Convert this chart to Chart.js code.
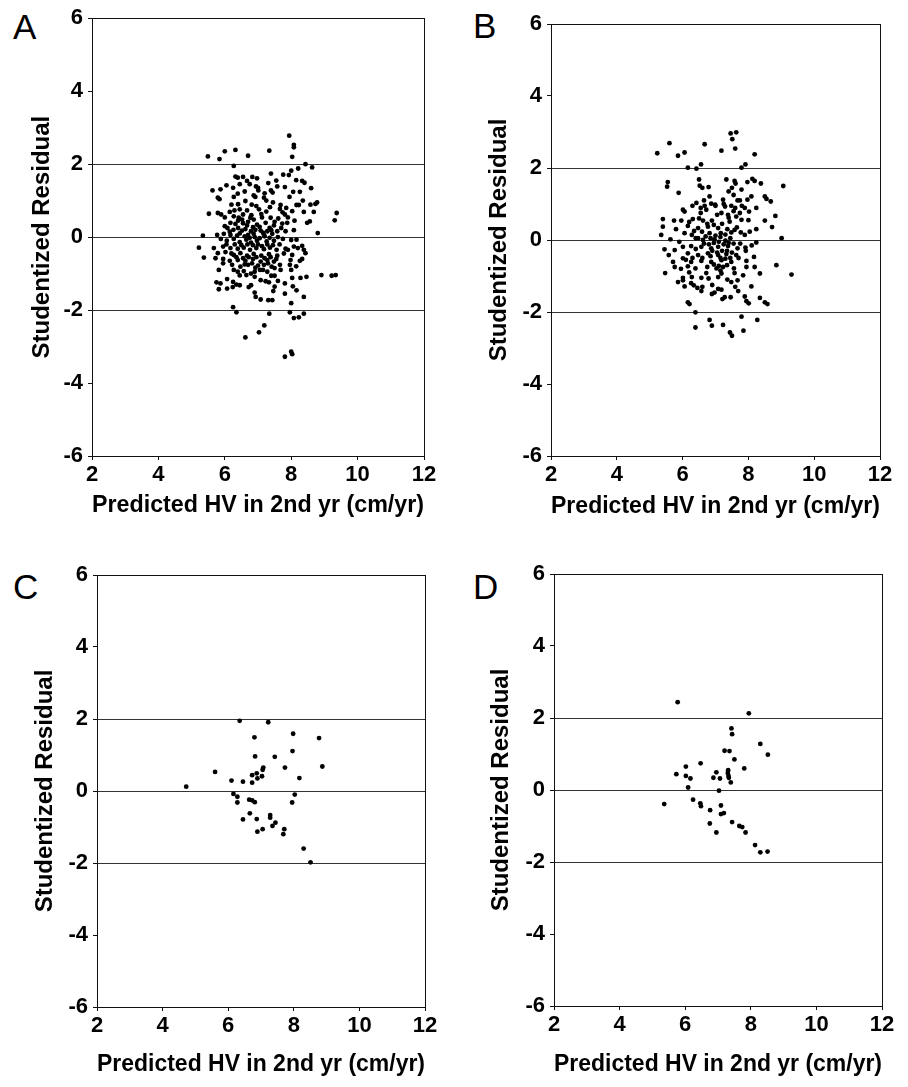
<!DOCTYPE html>
<html><head><meta charset="utf-8">
<script src="https://cdn.jsdelivr.net/npm/chart.js@4.4.1/dist/chart.umd.min.js"></script>
<style>
html,body{margin:0;padding:0;background:#fff;width:908px;height:1087px;overflow:hidden;}
.panel{position:absolute;}
.letter{position:absolute;font-family:'Liberation Sans',Arial,sans-serif;font-size:35px;color:#000;line-height:1;}
</style></head><body>
<div class="letter" style="left:13px;top:9px">A</div>
<div class="letter" style="left:473px;top:8px">B</div>
<div class="letter" style="left:13px;top:569px">C</div>
<div class="letter" style="left:473px;top:569px">D</div>
<div class="panel" style="left:0;top:0;width:454px;height:543px"><canvas id="cA"></canvas></div>
<div class="panel" style="left:454px;top:0;width:454px;height:543px"><canvas id="cB"></canvas></div>
<div class="panel" style="left:0;top:543px;width:454px;height:544px"><canvas id="cC"></canvas></div>
<div class="panel" style="left:454px;top:543px;width:454px;height:544px"><canvas id="cD"></canvas></div>
<script>
// ---- data ----
const xTicks = [2, 4, 6, 8, 10, 12];
const yTicks = [-6, -4, -2, 0, 2, 4, 6];
const refLines = [-2, 0, 2];
const xTitle = 'Predicted HV in 2nd yr (cm/yr)';
const yTitle = 'Studentized Residual';

const pointsA = [[7.94,2.78],[8.08,2.53],[8.08,2.46],[7.34,2.37],[6.32,2.39],[6.00,2.35],[6.70,2.23],[5.49,2.21],[5.84,2.14],[8.03,2.20],[6.27,1.95],[8.43,2.00],[8.63,1.91],[8.21,1.88],[8.00,1.82],[7.93,1.70],[7.39,1.74],[7.76,1.71],[6.32,1.66],[6.39,1.63],[6.55,1.65],[6.83,1.65],[6.97,1.61],[8.15,1.56],[8.33,1.54],[8.40,1.49],[6.67,1.54],[7.31,1.48],[6.05,1.42],[6.45,1.45],[7.58,1.39],[7.81,1.37],[6.94,1.39],[7.00,1.35],[7.01,1.28],[8.60,1.34],[5.63,1.28],[5.87,1.31],[7.39,1.28],[7.44,1.22],[8.06,1.24],[8.26,1.24],[6.39,1.19],[6.87,1.14],[6.92,1.10],[7.18,1.08],[7.25,1.00],[6.62,0.99],[5.79,1.08],[5.84,1.04],[6.27,1.10],[6.81,0.89],[7.68,0.88],[8.16,0.88],[8.23,0.88],[8.73,0.91],[8.58,0.89],[8.78,0.95],[6.20,0.89],[7.36,0.82],[7.03,0.76],[6.67,0.73],[6.45,0.76],[7.66,0.77],[5.52,0.64],[5.79,0.66],[5.89,0.62],[6.15,0.69],[6.29,0.73],[7.74,0.68],[7.81,0.62],[8.03,0.71],[8.38,0.69],[8.68,0.69],[9.37,0.66],[9.31,0.46],[6.00,0.54],[6.27,0.57],[6.42,0.53],[6.52,0.48],[6.77,0.53],[6.87,0.48],[7.12,0.54],[7.38,0.53],[7.61,0.51],[7.90,0.54],[7.88,0.39],[8.48,0.39],[8.56,0.43],[6.17,0.39],[6.32,0.36],[6.67,0.32],[6.97,0.34],[7.23,0.39],[7.48,0.32],[7.73,0.37],[6.08,0.25],[6.26,0.20],[6.40,0.25],[6.52,0.18],[6.62,0.22],[6.79,0.16],[6.92,0.20],[7.08,0.18],[7.28,0.16],[7.40,0.19],[7.58,0.16],[7.83,0.16],[8.08,0.19],[8.80,0.11],[5.34,0.04],[5.77,0.06],[5.97,0.09],[6.17,0.06],[6.37,0.04],[6.70,0.06],[6.87,0.09],[7.18,0.06],[7.43,0.09],[5.22,-0.29],[5.88,-0.05],[6.06,-0.10],[6.27,-0.05],[6.45,-0.14],[6.65,-0.07],[6.79,-0.15],[6.97,-0.10],[7.26,-0.12],[7.48,-0.10],[8.00,-0.08],[8.16,-0.07],[8.08,-0.26],[8.33,-0.24],[5.67,-0.30],[5.95,-0.26],[6.17,-0.30],[6.39,-0.32],[6.57,-0.29],[6.76,-0.35],[6.95,-0.30],[7.18,-0.33],[7.36,-0.29],[7.56,-0.35],[7.83,-0.32],[8.38,-0.35],[8.43,-0.44],[5.79,-0.44],[6.02,-0.41],[6.27,-0.49],[6.47,-0.44],[6.67,-0.51],[6.87,-0.46],[7.10,-0.51],[7.33,-0.47],[7.58,-0.51],[7.78,-0.45],[8.03,-0.49],[5.37,-0.56],[5.72,-0.58],[5.95,-0.60],[6.15,-0.65],[6.39,-0.63],[6.62,-0.65],[6.85,-0.60],[7.08,-0.67],[7.28,-0.63],[7.48,-0.67],[7.98,-0.63],[8.33,-0.60],[8.26,-0.65],[6.22,-0.76],[6.47,-0.81],[6.70,-0.76],[6.92,-0.84],[7.18,-0.76],[7.41,-0.81],[7.66,-0.76],[7.96,-0.76],[5.82,-0.90],[6.27,-0.90],[6.39,-0.95],[6.57,-0.93],[6.79,-1.00],[7.06,-0.90],[7.28,-0.95],[7.68,-0.90],[8.00,-0.90],[6.65,-1.04],[6.90,-1.09],[7.40,-1.06],[7.50,-1.06],[8.03,-1.12],[8.28,-1.12],[8.46,-1.09],[8.91,-1.04],[9.22,-1.06],[9.34,-1.04],[6.07,-1.15],[6.25,-1.23],[7.08,-1.18],[7.23,-1.21],[7.33,-1.24],[5.75,-1.24],[5.87,-1.27],[6.45,-1.32],[6.35,-1.30],[6.79,-1.32],[7.81,-1.27],[7.50,-1.36],[6.24,-1.37],[6.72,-1.37],[5.82,-1.43],[6.07,-1.41],[8.16,-1.46],[7.46,-1.48],[6.90,-1.52],[7.81,-1.55],[6.93,-1.64],[7.08,-1.71],[7.31,-1.73],[7.43,-1.73],[8.38,-1.64],[8.00,-1.81],[6.25,-1.92],[6.35,-2.06],[7.34,-2.10],[7.96,-2.06],[8.38,-2.10],[8.08,-2.22],[8.23,-2.20],[7.19,-2.42],[7.03,-2.61],[6.62,-2.75],[8.00,-3.14],[8.03,-3.21],[7.81,-3.28],
[6.40,0.45],[6.55,0.38],[6.70,0.42],[6.85,0.27],[7.05,0.28],[7.15,0.12],[7.35,0.25],[7.50,0.42],[6.45,0.10],[6.60,0.02],[6.75,-0.02],[6.90,0.00],[7.05,-0.03],[7.20,0.02],[7.35,-0.02],[7.60,0.00],[6.30,-0.20],[6.50,-0.22],[6.68,-0.20],[6.85,-0.22],[7.00,-0.20],[7.12,-0.25],[7.28,-0.20],[7.45,-0.22],[7.65,-0.20],[6.35,-0.55],[6.55,-0.58],[6.72,-0.55],[6.95,-0.55],[7.20,-0.58],[7.38,-0.55],[7.55,-0.60],[6.60,-0.75],[6.82,-0.72],[7.00,-0.78],[7.30,-0.72],[6.55,0.62],[6.80,0.60],[7.10,0.63],[7.25,0.70],[6.95,0.85],[7.45,0.95],[6.40,0.90],[6.15,0.15],[6.20,-0.45],[7.70,0.25],[7.75,-0.05],[7.90,-0.35],[7.85,0.80],[6.00,0.30],[6.05,-0.20],[5.95,-0.72],[7.15,-0.90],[6.90,-0.95],[7.50,-0.85],[6.45,-1.05],[7.60,-1.20],[7.20,1.20],[6.60,1.25],[8.10,0.45],[8.20,-0.30],[8.15,-0.80],[7.95,1.10],[8.35,1.00],[8.05,-1.35],[6.25,1.35],[6.75,1.45],[7.55,1.55]];

const pointsB = [[7.46,2.96],[7.63,2.99],[7.51,2.80],[5.60,2.69],[6.67,2.66],[7.60,2.54],[5.23,2.41],[5.86,2.34],[6.06,2.43],[7.18,2.48],[8.19,2.38],[6.56,2.10],[7.91,2.10],[6.16,2.01],[6.42,1.98],[7.79,2.01],[9.06,1.50],[5.55,1.61],[5.53,1.48],[6.50,1.68],[6.52,1.51],[6.60,1.45],[6.79,1.47],[7.33,1.68],[7.58,1.64],[7.61,1.57],[7.97,1.61],[8.12,1.70],[8.19,1.64],[8.38,1.57],[7.50,1.45],[7.79,1.40],[5.88,1.31],[6.82,1.21],[8.09,1.21],[8.50,1.21],[8.55,1.14],[8.68,1.07],[7.23,1.12],[7.74,1.10],[7.97,1.12],[7.67,1.10],[6.42,1.03],[6.67,0.95],[6.87,1.01],[6.99,0.98],[7.29,0.93],[7.48,0.95],[7.60,0.89],[7.89,0.89],[8.24,0.89],[6.72,0.84],[6.55,0.89],[6.01,0.84],[6.06,0.79],[8.02,0.79],[8.82,0.67],[7.18,0.75],[7.38,0.70],[7.63,0.65],[7.74,0.75],[7.79,0.56],[5.40,0.58],[5.74,0.54],[5.96,0.54],[6.31,0.58],[6.62,0.54],[6.89,0.54],[7.43,0.51],[8.50,0.54],[5.40,0.37],[8.72,0.36],[6.16,0.39],[6.47,0.33],[6.77,0.37],[7.08,0.33],[7.36,0.30],[7.58,0.28],[8.24,0.30],[8.04,0.23],[5.35,0.14],[6.06,0.19],[6.28,0.14],[6.59,0.23],[6.82,0.19],[7.16,0.19],[7.48,0.21],[7.77,0.21],[7.89,0.14],[5.63,0.02],[9.01,0.05],[6.47,0.05],[6.62,0.00],[6.97,0.02],[7.30,-0.02],[8.24,-0.07],[5.45,-0.26],[5.76,-0.28],[6.01,-0.19],[6.26,-0.17],[6.57,-0.19],[6.87,-0.23],[7.08,-0.19],[7.38,-0.17],[7.67,-0.23],[7.91,-0.21],[5.58,-0.42],[6.16,-0.37],[6.47,-0.42],[6.77,-0.37],[7.08,-0.42],[7.33,-0.39],[7.63,-0.42],[7.92,-0.30],[8.17,-0.47],[5.71,-0.61],[6.01,-0.51],[6.26,-0.61],[6.57,-0.58],[6.87,-0.61],[7.18,-0.56],[7.48,-0.61],[7.94,-0.58],[5.76,-0.75],[6.16,-0.73],[6.39,-0.79],[6.75,-0.75],[7.03,-0.79],[7.23,-0.75],[7.56,-0.79],[7.94,-0.75],[8.19,-0.75],[8.85,-0.70],[5.47,-0.92],[8.35,-0.93],[9.31,-0.96],[6.72,-0.92],[7.18,-0.93],[7.58,-0.92],[7.84,-0.98],[6.01,-1.05],[6.28,-1.03],[6.57,-1.05],[6.79,-1.07],[7.08,-1.03],[7.36,-1.10],[6.01,-1.12],[5.86,-1.17],[6.26,-1.20],[6.34,-1.26],[7.48,-1.17],[7.67,-1.12],[6.06,-1.29],[6.45,-1.33],[7.08,-1.36],[7.18,-1.38],[8.09,-1.29],[6.57,-1.42],[6.89,-1.50],[6.97,-1.46],[7.69,-1.42],[7.28,-1.59],[7.46,-1.59],[7.89,-1.57],[8.35,-1.61],[7.21,-1.64],[7.94,-1.70],[8.01,-1.76],[8.50,-1.73],[8.58,-1.78],[6.16,-1.73],[6.21,-1.78],[6.39,-2.01],[7.79,-2.13],[6.82,-2.22],[8.27,-2.22],[6.89,-2.38],[7.23,-2.36],[6.39,-2.43],[7.85,-2.52],[7.44,-2.57],[7.50,-2.66],
[6.70,0.10],[6.85,0.05],[7.00,0.12],[7.15,0.08],[7.30,0.15],[7.45,0.05],[6.65,-0.10],[6.80,-0.12],[6.95,-0.08],[7.10,-0.05],[7.25,-0.12],[7.40,-0.08],[7.55,-0.10],[6.75,0.45],[6.95,0.42],[7.20,0.45],[7.40,0.62],[7.55,0.80],[7.05,0.70],[6.90,-0.30],[7.05,-0.35],[7.20,-0.30],[7.35,-0.30],[7.50,-0.35],[6.60,-0.50],[6.85,-0.45],[7.15,-0.50],[7.30,-0.52],[7.45,-0.50],[6.95,-0.68],[7.10,-0.72],[7.35,-0.70],[6.50,0.60],[6.35,0.25],[6.40,-0.25],[6.30,-0.50],[6.20,0.50],[7.65,0.35],[7.70,-0.50],[7.80,0.95],[7.00,0.95],[6.55,0.75],[7.25,1.00],[6.20,-0.90],[7.60,-1.30],[6.90,-1.25],[7.40,1.35],[8.00,0.55],[8.10,-0.15],[5.90,-0.05],[5.80,0.30],[6.10,-0.55],[7.55,1.25],[6.30,0.95],[6.65,1.10],[7.15,-0.85],[6.60,-1.30],[7.75,-0.10],[6.40,0.05],[5.95,-0.80]];

const pointsC = [[6.35,1.95],[7.22,1.91],[6.80,1.49],[7.98,1.59],[8.77,1.47],[6.82,0.96],[7.42,0.95],[7.96,1.11],[8.87,0.68],[7.73,0.65],[7.07,0.65],[7.05,0.59],[5.60,0.53],[6.10,0.29],[6.45,0.26],[6.73,0.23],[6.73,0.44],[6.87,0.49],[6.89,0.35],[7.03,0.41],[8.17,0.36],[4.72,0.12],[6.16,-0.08],[6.28,-0.16],[6.28,-0.32],[8.03,-0.10],[7.95,-0.32],[6.64,-0.24],[6.73,-0.26],[6.81,-0.31],[6.66,-0.62],[6.45,-0.79],[6.87,-0.78],[7.28,-0.67],[7.28,-0.74],[7.44,-0.88],[7.35,-0.97],[7.05,-1.06],[6.89,-1.13],[7.71,-1.06],[7.68,-1.20],[8.30,-1.60],[8.51,-1.98]];

const pointsD = [[5.77,2.44],[7.94,2.13],[7.41,1.71],[7.43,1.55],[8.29,1.28],[8.52,0.98],[7.20,1.09],[7.35,1.08],[7.50,0.85],[6.47,0.74],[6.02,0.65],[7.80,0.60],[5.73,0.44],[6.02,0.39],[6.16,0.32],[6.95,0.49],[6.86,0.34],[7.06,0.32],[7.31,0.55],[7.30,0.47],[7.32,0.39],[7.33,0.34],[7.39,0.21],[6.09,0.07],[7.03,-0.02],[5.36,-0.39],[6.24,-0.27],[6.46,-0.37],[6.48,-0.45],[7.09,-0.43],[6.76,-0.56],[7.09,-0.67],[7.18,-0.64],[6.75,-0.93],[7.43,-0.89],[7.65,-1.00],[7.74,-1.03],[6.95,-1.18],[7.84,-1.18],[8.13,-1.53],[8.29,-1.73],[8.51,-1.71]];

// ---- layout (pixel geometry of each panel) ----
const panels = [
  {id:'cA', data:pointsA, w:454, h:543, padTop:17, padRight:30, padBottom:23, yAxisW:92,  xAxisH:64, yTitlePad:28},
  {id:'cB', data:pointsB, w:454, h:543, padTop:24, padRight:28, padBottom:22, yAxisW:97,  xAxisH:65, yTitlePad:31},
  {id:'cC', data:pointsC, w:454, h:544, padTop:32, padRight:29, padBottom:8,  yAxisW:97,  xAxisH:72, yTitlePad:31},
  {id:'cD', data:pointsD, w:454, h:544, padTop:31, padRight:26, padBottom:8,  yAxisW:100, xAxisH:73, yTitlePad:33}
];

const FONT = "'Liberation Sans', Arial, Helvetica, sans-serif";

const framePlugin = {
  id: 'frame',
  beforeDatasetsDraw(chart) {
    const {ctx, chartArea: a} = chart;
    ctx.save();
    ctx.strokeStyle = '#111';
    ctx.lineWidth = 1;
    ctx.strokeRect(Math.round(a.left) + 0.5, Math.round(a.top) + 0.5, Math.round(a.right - a.left), Math.round(a.bottom - a.top));
    ctx.restore();
  }
};

panels.forEach(p => {
  const canvas = document.getElementById(p.id);
  canvas.width = p.w; canvas.height = p.h;
  canvas.style.width = p.w + 'px'; canvas.style.height = p.h + 'px';
  new Chart(canvas, {
    type: 'scatter',
    data: {
      datasets: [{
        data: p.data.map(([x, y]) => ({x, y})),
        backgroundColor: '#000',
        borderWidth: 0,
        pointRadius: 2.4,
        pointHoverRadius: 2.4
      }]
    },
    options: {
      responsive: false,
      animation: false,
      devicePixelRatio: 1,
      layout: {padding: {top: p.padTop, right: p.padRight, bottom: p.padBottom, left: 0}},
      plugins: {legend: {display: false}, tooltip: {enabled: false}},
      scales: {
        x: {
          type: 'linear', min: xTicks[0], max: xTicks[xTicks.length - 1],
          afterBuildTicks: s => { s.ticks = xTicks.map(v => ({value: v})); },
          afterFit: s => { s.height = p.xAxisH; },
          grid: {color: 'rgba(0,0,0,0)', drawTicks: true, tickLength: 4, tickColor: '#111'},
          border: {display: true, color: '#111', width: 1},
          ticks: {color: '#000', padding: 2, maxRotation: 0, font: {family: FONT, size: 22, weight: 'bold'}},
          title: {display: true, text: xTitle, color: '#000', padding: {top: 0, bottom: 0}, font: {family: FONT, size: 24, weight: 'bold'}}
        },
        y: {
          type: 'linear', min: yTicks[0], max: yTicks[yTicks.length - 1],
          afterBuildTicks: s => { s.ticks = yTicks.map(v => ({value: v})); },
          afterFit: s => { s.width = p.yAxisW; },
          grid: {
            color: c => refLines.includes(c.tick && c.tick.value) ? '#333' : 'rgba(0,0,0,0)',
            lineWidth: 1, drawTicks: true, tickLength: 4, tickColor: '#111'
          },
          border: {display: true, color: '#111', width: 1},
          ticks: {color: '#000', padding: 5, font: {family: FONT, size: 22, weight: 'bold'}},
          title: {display: true, text: yTitle, color: '#000', padding: {top: p.yTitlePad, bottom: 0}, font: {family: FONT, size: 24, weight: 'bold'}}
        }
      }
    },
    plugins: [framePlugin]
  });
});
</script>
</body></html>
